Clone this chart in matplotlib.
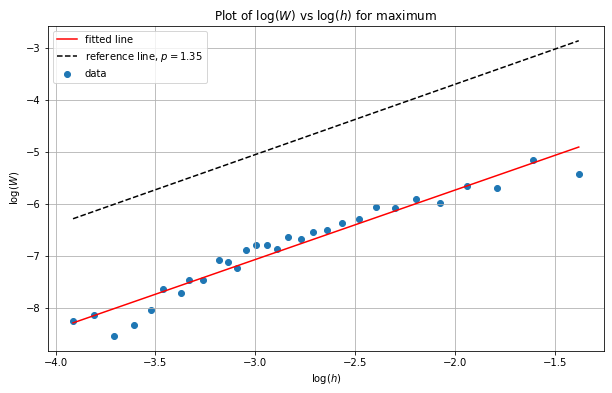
import numpy as np
import matplotlib.pyplot as plt

# log(h) and log(W)
log_h = [-3.913, -3.808, -3.71, -3.61, -3.52, -3.46, -3.37, -3.33, -3.26,
         -3.18, -3.135, -3.09, -3.045, -2.995, -2.94, -2.89, -2.835, -2.77,
         -2.71, -2.64, -2.565, -2.48, -2.395, -2.30, -2.195, -2.075, -1.94,
         -1.79, -1.61, -1.38]
log_w = [-8.25, -8.14, -8.54, -8.33, -8.04, -7.64, -7.72, -7.46, -7.46,
         -7.07, -7.11, -7.24, -6.89, -6.78, -6.78, -6.87, -6.63, -6.68,
         -6.53, -6.50, -6.36, -6.29, -6.06, -6.08, -5.90, -5.98, -5.66,
         -5.70, -5.16, -5.43]
p_ref = 1.35
ref_offset = 2.0

x = np.array(log_h)
y = np.array(log_w)

# least squares fit
slope, intercept = np.polyfit(x, y, 1)
fit = slope * x + intercept

# reference line with slope p, shifted above the fit
ref = fit[0] + ref_offset + p_ref * (x - x[0])

fig = plt.figure(figsize=(8.5, 393 / 72), dpi=72)
ax = fig.add_axes([0.078, 0.107, 0.909, 0.827])

ax.plot(x, fit, color='red', label='fitted line')
ax.plot(x, ref, color='black', linestyle='--', label=f'reference line, $p = {p_ref}$')
ax.scatter(x, y, color='#1f77b4', label='data')

ax.set_title(r'Plot of $\log(W)$ vs $\log(h)$ for maximum', fontsize=12)
ax.set_xlabel(r'$\log(h)$')
ax.set_ylabel(r'$\log(W)$')
ax.grid(True, color='#b0b0b0', linewidth=0.8)
ax.legend(loc='upper left')

fig.savefig('out.png', dpi=72)
